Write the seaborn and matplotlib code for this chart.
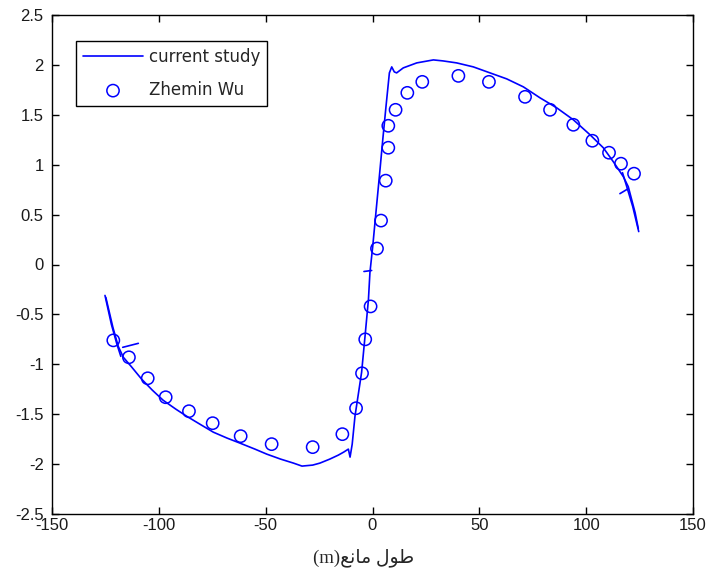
import matplotlib
matplotlib.use("Agg")
import matplotlib.pyplot as plt
from matplotlib.ticker import FuncFormatter
import seaborn as sns

# ---- numerical solution ("current study"), main profile ----
study_x = [-124.8, -121.5, -119.0, -116.6, -113.0, -108.0, -103.0, -98.0, -92.0,
           -87.0, -80.0, -74.5, -68.0, -62.0, -55.0, -49.5, -43.0, -37.0, -33.0,
           -28.0, -24.6, -20.0, -16.0, -13.5, -11.3, -10.5, -9.5, -8.2, -6.5,
           -5.1, -3.5, -1.9, -1.2, 0.1, 1.6, 3.2, 4.8, 6.3, 7.9, 9.0, 10.2,
           11.3, 14.4, 20.7, 28.5, 33.0, 39.4, 47.2, 55.0, 62.8, 70.6, 78.4,
           86.2, 94.0, 101.8, 108.0, 112.7, 117.4, 119.7, 121.3, 122.9, 124.4]
study_y = [-0.33, -0.63, -0.82, -0.93, -1.02, -1.15, -1.26, -1.36, -1.45,
           -1.52, -1.61, -1.68, -1.74, -1.79, -1.85, -1.90, -1.95, -1.99, -2.02,
           -2.01, -1.99, -1.95, -1.91, -1.88, -1.85, -1.93, -1.80, -1.52, -1.28,
           -1.08, -0.72, -0.35, -0.08, 0.18, 0.52, 0.88, 1.25, 1.58, 1.92, 1.98, 1.93,
           1.92, 1.97, 2.02, 2.05, 2.04, 2.02, 1.98, 1.92, 1.86, 1.78, 1.67,
           1.57, 1.45, 1.30, 1.17, 1.03, 0.88, 0.78, 0.65, 0.52, 0.36]

# short stray strokes of the same solution near the ends and the centre
stray_x = [[-125.2, -122.2, -119.6, -117.8],
           [-116.9, -109.6],
           [-4.0, -0.4],
           [117.0, 119.0, 121.8, 124.6],
           [115.8, 119.7]]
stray_y = [[-0.31, -0.60, -0.80, -0.92],
           [-0.83, -0.79],
           [-0.07, -0.06],
           [0.92, 0.78, 0.58, 0.33],
           [0.71, 0.76]]

# ---- reference data (Zhemin Wu) ----
wu_x = [-121.3, -114.0, -105.2, -96.8, -85.9, -74.8, -61.7, -47.2, -28.0, -14.1,
        -7.7, -4.9, -3.4, -0.9, 2.1, 4.0, 6.2, 7.4, 7.4, 10.8, 16.3, 23.3,
        40.2, 54.5, 71.4, 83.1, 94.0, 102.9, 110.7, 116.3, 122.4]
wu_y = [-0.76, -0.93, -1.14, -1.33, -1.47, -1.59, -1.72, -1.80, -1.83, -1.70,
        -1.44, -1.09, -0.75, -0.42, 0.16, 0.44, 0.84, 1.17, 1.39, 1.55, 1.72, 1.83,
        1.89, 1.83, 1.68, 1.55, 1.40, 1.24, 1.12, 1.01, 0.91]

x_ticks = [-150, -100, -50, 0, 50, 100, 150]
y_ticks = [-2.5, -2, -1.5, -1, -0.5, 0, 0.5, 1, 1.5, 2, 2.5]

# "طول مانع(m)" written with Arabic presentation forms in display order
x_label = "(m)" + "\ufeca\ufee7\ufe8e\ufee3" + " " + "\ufedd\ufeee\ufec3"

BLUE = "#0000ff"

sns.set_style("ticks")
plt.rcParams["font.family"] = ["Liberation Sans", "DejaVu Sans"]
plt.rcParams["axes.unicode_minus"] = False

fig = plt.figure(figsize=(7.1, 5.75), dpi=100)
ax = fig.add_axes([52 / 710, 61 / 575, 641 / 710, 499 / 575])

sns.lineplot(x=study_x, y=study_y, sort=False, estimator=None, color=BLUE,
             linewidth=1.2, ax=ax, label="current study")
for sx, sy in zip(stray_x, stray_y):
    sns.lineplot(x=sx, y=sy, sort=False, estimator=None, color=BLUE,
                 linewidth=1.2, ax=ax, legend=False)

sns.scatterplot(x=wu_x, y=wu_y, marker="o", s=78, facecolors="none",
                edgecolor=BLUE, linewidth=1.1, ax=ax, label="Zhemin Wu")

ax.set_xlim(-150, 150)
ax.set_ylim(-2.5, 2.5)
ax.set_xticks(x_ticks)
ax.set_yticks(y_ticks)
ax.xaxis.set_major_formatter(FuncFormatter(lambda v, p: f"{v:g}"))
ax.yaxis.set_major_formatter(FuncFormatter(lambda v, p: f"{v:g}"))

for side in ["top", "right", "bottom", "left"]:
    ax.spines[side].set_visible(True)
    ax.spines[side].set_color("black")
    ax.spines[side].set_linewidth(1.0)

ax.tick_params(axis="both", direction="in", length=5, width=1.0, color="black",
               labelsize=12, labelcolor="#1a1a1a", top=True, right=True)
ax.tick_params(axis="x", pad=3)
ax.tick_params(axis="y", pad=6)

ax.set_xlabel(x_label, fontsize=13.5,
              family=["Liberation Serif", "DejaVu Sans"])
ax.xaxis.set_label_coords((364 - 52) / 641, -0.068)
ax.set_ylabel("")

handles, labels = ax.get_legend_handles_labels()
leg = ax.legend(handles, labels, loc="upper left",
                bbox_to_anchor=((76 - 52) / 641, (514 - 41) / 499),
                borderaxespad=0, handlelength=3.6,
                handletextpad=0.35, labelspacing=0.9, borderpad=0.42,
                fancybox=False, framealpha=1, edgecolor="black",
                prop={"family": "DejaVu Sans", "size": 12})
leg.get_frame().set_linewidth(1.0)

fig.savefig("out.png", dpi=100, facecolor="white")
